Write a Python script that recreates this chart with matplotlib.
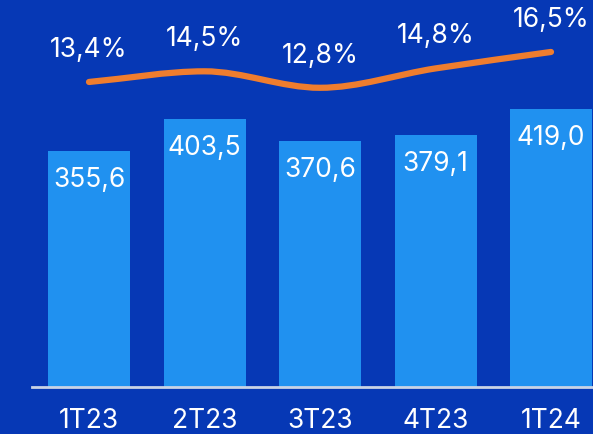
import matplotlib
matplotlib.use("Agg")
import matplotlib.pyplot as plt
from matplotlib.path import Path
from matplotlib.patches import PathPatch
import numpy as np

categories = ["1T23", "2T23", "3T23", "4T23", "1T24"]
revenue = [355.6, 403.5, 370.6, 379.1, 419.0]
margin = [13.4, 14.5, 12.8, 14.8, 16.5]
revenue_labels = ["355,6", "403,5", "370,6", "379,1", "419,0"]
margin_labels = ["13,4%", "14,5%", "12,8%", "14,8%", "16,5%"]

BG = "#0638b5"
BAR = "#2091f0"
ORANGE = "#ef7d2e"
FONT = "Inter"
FS = 19
FW = "normal"

fig = plt.figure(figsize=(5.93, 4.35), dpi=100)
fig.patch.set_facecolor(BG)
ax = fig.add_axes([0, 0, 1, 1])
ax.set_facecolor(BG)
x = np.arange(len(categories))
ax.bar(x, revenue, width=0.71, color=BAR, zorder=2)
ax.set_xlim(-0.7706, 4.3636)
ax.set_ylim(-70.8, 584.3)
for s in ax.spines.values():
    s.set_visible(False)
ax.set_xticks([]); ax.set_yticks([])

# baseline
ax.plot([-0.494, 4.3636], [0, 0], color="#c9d3e6", lw=2, zorder=3, clip_on=False)

for xi, v, lab in zip(x, revenue, revenue_labels):
    ax.annotate(lab, (xi, v), xytext=(0, -28), textcoords="offset pixels",
                ha="center", va="center", color="white", fontsize=FS,
                family=FONT, fontweight=FW, zorder=4)
for xi, lab in zip(x, categories):
    ax.annotate(lab, (xi, 0), xytext=(0, -33), textcoords="offset pixels",
                ha="center", va="center", color="white", fontsize=FS,
                family=FONT, fontweight=FW)

ax2 = ax.twinx()
ax2.set_position([0, 0, 1, 1])
ax2.set_ylim(-22.96, 21.97)
ax2.set_xlim(ax.get_xlim())
ax2.axis("off")

# monotone cubic (Fritsch-Carlson) tangents for smooth drawing
xs = x.astype(float); ys = np.array(margin, float)
d = np.diff(ys) / np.diff(xs)
m = np.zeros_like(ys)
m[0] = d[0]; m[-1] = d[-1]
for i in range(1, len(ys) - 1):
    if d[i-1] * d[i] <= 0:
        m[i] = 0
    else:
        m[i] = 2 / (1/d[i-1] + 1/d[i])
verts = [(xs[0], ys[0])]
codes = [Path.MOVETO]
for i in range(len(xs) - 1):
    h = xs[i+1] - xs[i]
    verts += [(xs[i] + h/3, ys[i] + m[i]*h/3),
              (xs[i+1] - h/3, ys[i+1] - m[i+1]*h/3),
              (xs[i+1], ys[i+1])]
    codes += [Path.CURVE4] * 3
patch = PathPatch(Path(verts, codes), facecolor="none", edgecolor=ORANGE,
                  lw=4.5, capstyle="round", joinstyle="round", zorder=5)
ax2.add_patch(patch)

for xi, v, lab in zip(x, margin, margin_labels):
    ax2.annotate(lab, (xi, v), xytext=(0, 33), textcoords="offset pixels",
                 ha="center", va="center", color="white", fontsize=FS,
                 family=FONT, fontweight=FW)

fig.savefig("out.png", dpi=100, facecolor=BG)
